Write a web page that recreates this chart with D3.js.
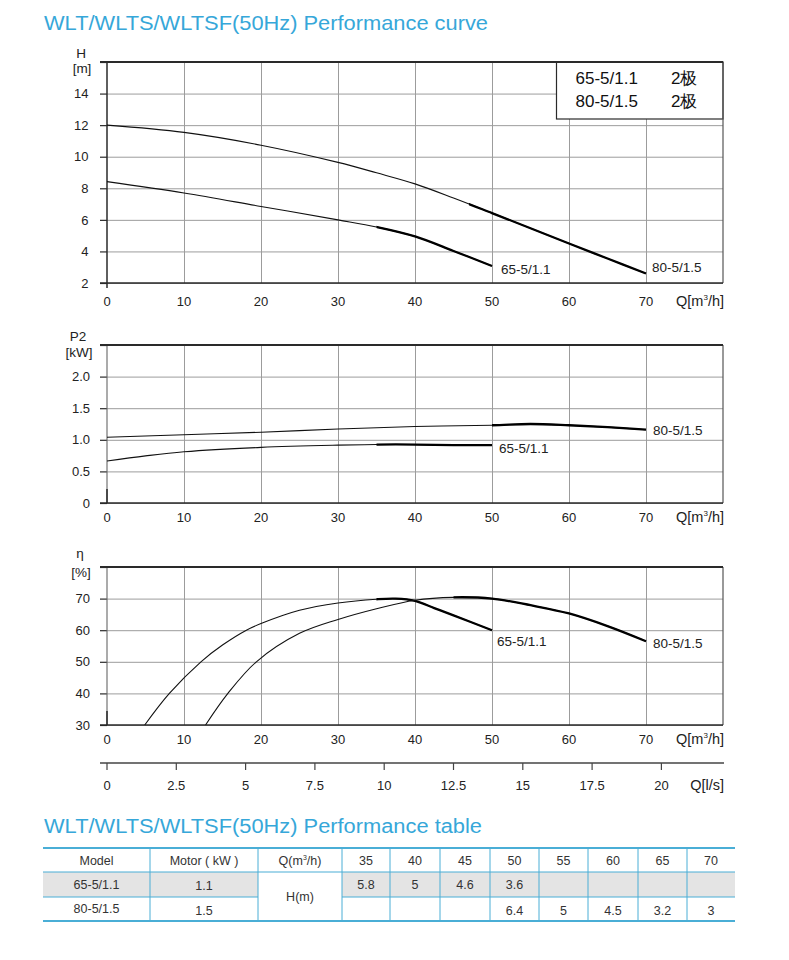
<!DOCTYPE html>
<html>
<head>
<meta charset="utf-8">
<script src="https://cdn.jsdelivr.net/npm/d3@7"></script>
<style>
body { margin: 0; background: #fff; }
text { font-family: "Liberation Sans", Arial, Helvetica, sans-serif; }
</style>
</head>
<body>
<svg id="chart" width="789" height="960"></svg>
<script>
// ---- data ----
var flowTicks = [0, 10, 20, 30, 40, 50, 60, 70];
var lsTicks = [0, 2.5, 5, 7.5, 10, 12.5, 15, 17.5, 20];
var models = ["65-5/1.1", "80-5/1.5"];
var poles = ["2极", "2极"];
var opRange65 = [35, 50];   // thick (recommended) part of each curve
var opRange80 = [47, 70];

// head H [m]
var hTicks = [2, 4, 6, 8, 10, 12, 14];
var hQ65 = [0, 10, 20, 30, 35, 40, 45, 50];
var hV65 = [8.42, 7.7, 6.85, 6.0, 5.55, 4.95, 4.03, 3.08];
var hQ80 = [0, 10, 20, 30, 35, 40, 45, 50, 55, 60, 65, 70];
var hV80 = [12.0, 11.54, 10.73, 9.64, 8.98, 8.28, 7.38, 6.43, 5.47, 4.5, 3.55, 2.6];

// power P2 [kW]
var pTicks = [0, 0.5, 1.0, 1.5, 2.0];
var pQ65 = [0, 5, 10, 20, 30, 35, 40, 45, 50];
var pV65 = [0.665, 0.745, 0.81, 0.88, 0.915, 0.925, 0.925, 0.915, 0.915];
var pQ80 = [0, 10, 20, 30, 40, 50, 55, 60, 65, 70];
var pV80 = [1.04, 1.08, 1.12, 1.17, 1.21, 1.23, 1.25, 1.23, 1.2, 1.16];

// efficiency eta [%]
var eTicks = [30, 40, 50, 60, 70];
var eQ65 = [4.9, 8.1, 12.2, 15, 18.1, 20, 25, 30, 35, 37.5, 40, 42.5, 45, 50];
var eV65 = [30, 40, 50, 55.3, 60, 62.1, 66.3, 68.6, 69.8, 70, 69.3, 67, 64.7, 60];
var eQ80 = [12.8, 15.7, 19.4, 25, 30, 35, 40, 45, 50, 55, 60, 65, 70];
var eV80 = [30, 40, 50, 59.0, 63.4, 66.8, 69.5, 70.4, 70, 67.9, 65.3, 61.3, 56.5];

// performance table
var tableHead = ["Model", "Motor ( kW )"];
var tableQ = [35, 40, 45, 50, 55, 60, 65, 70];
var tableMotor = ["1.1", "1.5"];
var tableH65 = ["5.8", "5", "4.6", "3.6", "", "", "", ""];
var tableH80 = ["", "", "", "6.4", "5", "4.5", "3.2", "3"];

// ---- drawing ----
var svg = d3.select("#chart");
var blue = "#36a7d9";
var dark = "#2a2a2a";
var gridCol = "#9c9c9c";

svg.append("rect").attr("width", 789).attr("height", 960).attr("fill", "#fff");

svg.append("text").attr("x", 44).attr("y", 30)
    .attr("font-size", 21).attr("fill", blue)
    .attr("textLength", 444).attr("lengthAdjust", "spacingAndGlyphs")
    .text("WLT/WLTS/WLTSF(50Hz) Performance curve");

var x = d3.scaleLinear().domain([0, 80]).range([107, 723]);

function zip(q, v) { return q.map(function(d, i) { return { q: d, v: v[i] }; }); }

function qLabel(g, yb, main, unit, sup) {
    var t = g.append("text").attr("x", 724).attr("y", yb)
        .attr("text-anchor", "end").attr("font-size", 14.5).attr("fill", "#222");
    t.append("tspan").text(main);
    if (sup) {
        t.append("tspan").attr("font-size", 8).attr("dy", -6).text(sup);
        t.append("tspan").attr("dy", 6).text(unit);
    }
}

var clipN = 0;

function panel(o) {
    var y = d3.scaleLinear().domain(o.domain).range([o.bottom, o.top]);
    var g = svg.append("g");

    // grid
    g.append("g").attr("transform", "translate(0," + o.bottom + ")")
        .call(d3.axisBottom(x).tickValues(flowTicks.slice(1)).tickSize(-(o.bottom - o.top)).tickFormat(""))
        .call(function(a) {
            a.select(".domain").remove();
            a.selectAll("line").attr("stroke", gridCol).attr("stroke-width", 1);
        });
    g.append("g").attr("transform", "translate(" + x(0) + ",0)")
        .call(d3.axisLeft(y).tickValues(o.ticks).tickSize(-(x(80) - x(0))).tickFormat(""))
        .call(function(a) {
            a.select(".domain").remove();
            a.selectAll("line").attr("stroke", gridCol).attr("stroke-width", 1);
        });

    // left ticks + labels
    g.append("g").attr("transform", "translate(" + x(0) + ",0)")
        .call(d3.axisLeft(y).tickValues(o.ticks.concat([o.domain[1]])).tickSize(7).tickPadding(o.pad).tickFormat(o.fmt))
        .call(function(a) {
            a.select(".domain").remove();
            a.selectAll("line").attr("stroke", dark).attr("stroke-width", 1.2);
            a.selectAll("text").attr("font-size", 13).attr("fill", "#222")
                .attr("font-family", "Liberation Sans, Arial, sans-serif");
            a.selectAll(".tick").filter(function(d) { return d === o.domain[1]; }).select("text").remove();
        });

    // legend box (H panel only)
    if (o.legend) o.legend(g, y);

    // frame
    g.append("line").attr("x1", x(0)).attr("x2", x(0)).attr("y1", o.top).attr("y2", o.bottom + (o.darkLeft ? 5 : 0))
        .attr("stroke", o.darkLeft ? dark : "#666").attr("stroke-width", o.darkLeft ? 1.5 : 1.1);
    if (!o.darkLeft) {
        g.append("line").attr("x1", x(0)).attr("x2", x(0)).attr("y1", o.bottom - 14).attr("y2", o.bottom)
            .attr("stroke", dark).attr("stroke-width", 1.5);
    }
    g.append("line").attr("x1", x(80)).attr("x2", x(80)).attr("y1", o.top).attr("y2", o.bottom)
        .attr("stroke", "#555").attr("stroke-width", 1.2);
    g.append("line").attr("x1", x(0) - 7).attr("x2", x(80)).attr("y1", o.top).attr("y2", o.top)
        .attr("stroke", dark).attr("stroke-width", 2);
    g.append("line").attr("x1", x(0) - 7).attr("x2", x(80)).attr("y1", o.bottom).attr("y2", o.bottom)
        .attr("stroke", dark).attr("stroke-width", 1.6);

    // x labels
    g.selectAll(".xl").data(flowTicks).enter().append("text")
        .attr("x", function(d) { return x(d); }).attr("y", o.bottom + o.xOff)
        .attr("text-anchor", "middle").attr("font-size", 13).attr("fill", "#222")
        .text(function(d) { return d; });
    qLabel(g, o.bottom + o.xOff, "Q[m", "/h]", "3");

    // unit labels
    g.append("text").attr("x", o.ux).attr("y", o.u1y).attr("text-anchor", "middle")
        .attr("font-size", 13.5).attr("fill", "#222").text(o.u1);
    g.append("text").attr("x", o.ux + 1).attr("y", o.u2y).attr("text-anchor", "middle")
        .attr("font-size", 13.5).attr("fill", "#222").text(o.u2);

    // curves
    var line = d3.line().curve(d3.curveCatmullRom.alpha(0.5))
        .x(function(d) { return x(d.q); }).y(function(d) { return y(d.v); });
    o.series.forEach(function(s) {
        var pts = zip(s.q, s.v);
        g.append("path").attr("d", line(pts)).attr("fill", "none")
            .attr("stroke", "#111").attr("stroke-width", 1.1);
        // thick operating part: same path clipped to the operating flow range
        var clipId = "opclip" + (clipN++);
        g.append("clipPath").attr("id", clipId).append("rect")
            .attr("x", x(s.op[0])).attr("y", o.top).attr("width", x(s.op[1]) - x(s.op[0]) + 1.5).attr("height", o.bottom - o.top);
        g.append("path").attr("d", line(pts)).attr("fill", "none")
            .attr("clip-path", "url(#" + clipId + ")")
            .attr("stroke", "#000").attr("stroke-width", 2.3);
        var last = pts[pts.length - 1];
        g.append("text").attr("x", x(last.q) + s.dx).attr("y", y(last.v) + s.dy)
            .attr("font-size", 13.5).attr("fill", "#222").text(s.label);
    });
    return y;
}

// H panel
panel({
    top: 62, bottom: 283, domain: [2, 16], ticks: hTicks, pad: 11.5,
    fmt: function(d) { return d; }, xOff: 23, darkLeft: true,
    ux: 81, u1: "H", u1y: 58, u2: "[m]", u2y: 73,
    series: [
        { q: hQ65, v: hV65, op: opRange65, label: models[0], dx: 9, dy: 8 },
        { q: hQ80, v: hV80, op: opRange80, label: models[1], dx: 6, dy: -2 }
    ],
    legend: function(g) {
        g.append("rect").attr("x", 556.5).attr("y", 62).attr("width", x(80) - 556.5).attr("height", 57)
            .attr("fill", "#fff").attr("stroke", dark).attr("stroke-width", 1.2);
        models.forEach(function(m, i) {
            g.append("text").attr("x", 575.5).attr("y", 84 + i * 23).attr("font-size", 17).attr("fill", "#111").text(m);
            g.append("text").attr("x", 671).attr("y", 84 + i * 23).attr("font-size", 17).attr("fill", "#111")
                .attr("font-family", "Noto Sans CJK SC, sans-serif").text(poles[i]);
        });
    }
});

// P2 panel
panel({
    top: 345, bottom: 503, domain: [0, 2.5], ticks: pTicks, pad: 10,
    fmt: function(d) { return d === 0 ? "0" : d3.format(".1f")(d); }, xOff: 19, darkLeft: false,
    ux: 78, u1: "P2", u1y: 341, u2: "[kW]", u2y: 357,
    series: [
        { q: pQ65, v: pV65, op: opRange65, label: models[0], dx: 7, dy: 8 },
        { q: pQ80, v: pV80, op: [50, 70], label: models[1], dx: 7, dy: 5 }
    ]
});

// efficiency panel
panel({
    top: 567, bottom: 725, domain: [30, 80], ticks: eTicks, pad: 10,
    fmt: function(d) { return d; }, xOff: 19, darkLeft: false,
    ux: 80, u1: "η", u1y: 558, u2: "[%]", u2y: 577,
    series: [
        { q: eQ65, v: eV65, op: opRange65, label: models[0], dx: 5, dy: 16 },
        { q: eQ80, v: eV80, op: [45, 70], label: models[1], dx: 7, dy: 7 }
    ]
});

// secondary flow axis in l/s
var xl = d3.scaleLinear().domain([0, 80 / 3.6]).range([107, 723]);
var ga = svg.append("g");
ga.append("line").attr("x1", 100).attr("x2", 724).attr("y1", 763).attr("y2", 763)
    .attr("stroke", "#444").attr("stroke-width", 1.5);
ga.selectAll(".lt").data(lsTicks).enter().append("line")
    .attr("x1", function(d) { return xl(d); }).attr("x2", function(d) { return xl(d); })
    .attr("y1", 763).attr("y2", 770).attr("stroke", "#444").attr("stroke-width", 1.2);
ga.selectAll(".ll").data(lsTicks).enter().append("text")
    .attr("x", function(d) { return xl(d); }).attr("y", 790)
    .attr("text-anchor", "middle").attr("font-size", 13).attr("fill", "#222")
    .text(function(d) { return d; });
qLabel(ga, 790, "Q[l/s]");

// ---- table ----
svg.append("text").attr("x", 44).attr("y", 833)
    .attr("font-size", 20).attr("fill", blue)
    .attr("textLength", 438).attr("lengthAdjust", "spacingAndGlyphs")
    .text("WLT/WLTS/WLTSF(50Hz) Performance table");

var colX = [43, 150, 258, 342, 390, 440, 490, 539, 588, 638, 687, 735];
var rowY = [848, 872, 897, 921];
var tb = svg.append("g");
var tcol = "#4aaed6";
function cx(i) { return (colX[i] + colX[i + 1]) / 2; }

tb.append("rect").attr("x", colX[0]).attr("y", rowY[1]).attr("width", colX[2] - colX[0]).attr("height", rowY[2] - rowY[1]).attr("fill", "#e4e4e4");
tb.append("rect").attr("x", colX[3]).attr("y", rowY[1]).attr("width", colX[11] - colX[3]).attr("height", rowY[2] - rowY[1]).attr("fill", "#e4e4e4");

colX.slice(1, -1).forEach(function(cxv) {
    tb.append("line").attr("x1", cxv).attr("x2", cxv).attr("y1", rowY[0]).attr("y2", rowY[3])
        .attr("stroke", tcol).attr("stroke-width", 1);
});
tb.append("line").attr("x1", colX[0]).attr("x2", colX[11]).attr("y1", rowY[0]).attr("y2", rowY[0]).attr("stroke", tcol).attr("stroke-width", 2);
tb.append("line").attr("x1", colX[0]).attr("x2", colX[11]).attr("y1", rowY[1]).attr("y2", rowY[1]).attr("stroke", tcol).attr("stroke-width", 1.2);
tb.append("line").attr("x1", colX[0]).attr("x2", colX[2]).attr("y1", rowY[2]).attr("y2", rowY[2]).attr("stroke", tcol).attr("stroke-width", 1.2);
tb.append("line").attr("x1", colX[3]).attr("x2", colX[11]).attr("y1", rowY[2]).attr("y2", rowY[2]).attr("stroke", tcol).attr("stroke-width", 1.2);
tb.append("line").attr("x1", colX[0]).attr("x2", colX[11]).attr("y1", rowY[3]).attr("y2", rowY[3]).attr("stroke", tcol).attr("stroke-width", 2);

function cell(i, yb, txt) {
    return tb.append("text").attr("x", cx(i)).attr("y", yb).attr("text-anchor", "middle")
        .attr("font-size", 12.5).attr("fill", "#333").text(txt);
}
cell(0, 865, tableHead[0]);
cell(1, 865, tableHead[1]);
var qh = cell(2, 865, "Q(m");
qh.append("tspan").attr("font-size", 7).attr("dy", -5).text("3");
qh.append("tspan").attr("dy", 5).text("/h)");
tableQ.forEach(function(q, i) { cell(i + 3, 865, q); });
cell(0, 889, models[0]);
cell(1, 890, tableMotor[0]);
cell(0, 913, models[1]);
cell(1, 915, tableMotor[1]);
cell(2, 901, "H(m)");
tableH65.forEach(function(v, i) { cell(i + 3, 889, v); });
tableH80.forEach(function(v, i) { cell(i + 3, 915, v); });
</script>
</body>
</html>
